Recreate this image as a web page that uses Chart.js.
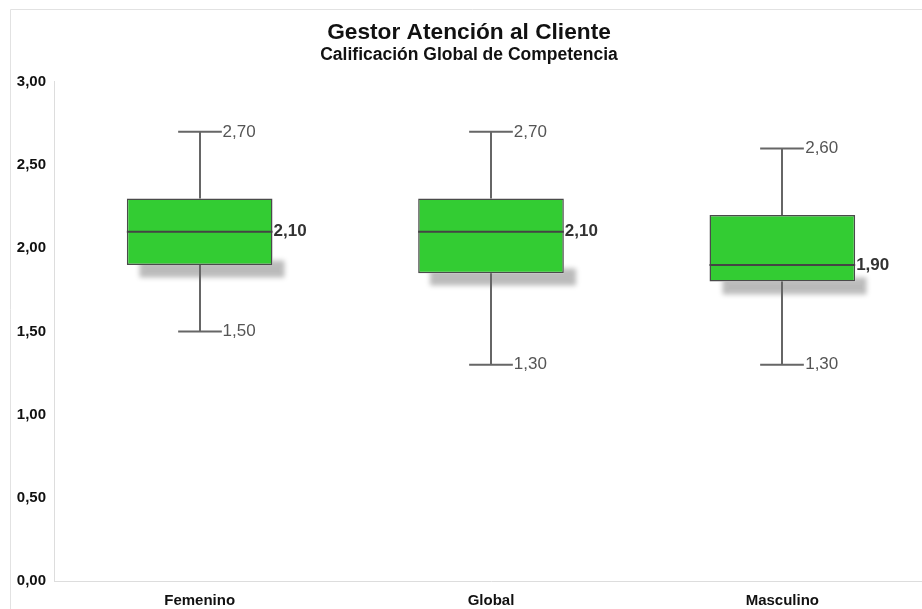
<!DOCTYPE html>
<html lang="es">
<head>
<meta charset="utf-8">
<title>Gestor Atención al Cliente</title>
<script src="https://cdn.jsdelivr.net/npm/chart.js@4"></script>
<style>
  html, body { margin: 0; padding: 0; background: #fff; overflow: hidden; }
  canvas { display: block; }
</style>
</head>
<body>
<canvas id="boxChart" width="935" height="609"></canvas>
<script>
// Categorías y estadísticos de cada caja (mín, Q1, mediana, Q3, máx)
const categories = ["Femenino", "Global", "Masculino"];
const minValues = [1.5, 1.3, 1.3];
const q1Values = [1.9, 1.85, 1.8];
const medianValues = [2.1, 2.1, 1.9];
const q3Values = [2.3, 2.3, 2.2];
const maxValues = [2.7, 2.7, 2.6];

const FONT = "'Liberation Sans', Arial, Helvetica, sans-serif";

function fmt(v) {
  return v.toFixed(2).replace(".", ",");
}

// Marco fino alrededor del gráfico
const framePlugin = {
  id: "frame",
  beforeDraw(chart) {
    const ctx = chart.ctx;
    ctx.save();
    ctx.strokeStyle = "#e2e2e2";
    ctx.lineWidth = 1;
    ctx.beginPath();
    ctx.moveTo(10.5, chart.height);
    ctx.lineTo(10.5, 9.5);
    ctx.lineTo(chart.width, 9.5);
    ctx.stroke();
    ctx.restore();
  },
};

// Sombra bajo las cajas, bigotes, mediana y etiquetas
const boxPlotPlugin = {
  id: "boxPlot",
  beforeDatasetsDraw(chart) {
    const ctx = chart.ctx;
    const y = chart.scales.y;
    const meta = chart.getDatasetMeta(0);
    ctx.save();
    // franja de sombra proyectada bajo el borde inferior de cada caja
    meta.data.forEach((bar) => {
      const left = bar.x - bar.width / 2;
      const bottom = Math.max(bar.y, bar.base);
      ctx.save();
      ctx.shadowColor = "rgba(0,0,0,0.27)";
      ctx.shadowBlur = 5;
      ctx.shadowOffsetX = 12;
      ctx.shadowOffsetY = 13;
      ctx.fillStyle = "#fff";
      ctx.fillRect(left, bottom - 18, bar.width, 18);
      ctx.restore();
    });
    // bigotes
    ctx.strokeStyle = "#666";
    ctx.lineWidth = 2;
    meta.data.forEach((bar, i) => {
      const x = Math.round(bar.x);
      const cap = bar.width * 0.15;
      const yMin = y.getPixelForValue(minValues[i]);
      const yMax = y.getPixelForValue(maxValues[i]);
      const yQ1 = y.getPixelForValue(q1Values[i]);
      const yQ3 = y.getPixelForValue(q3Values[i]);
      ctx.beginPath();
      ctx.moveTo(x, yMax);
      ctx.lineTo(x, yQ3);
      ctx.moveTo(x, yQ1);
      ctx.lineTo(x, yMin);
      ctx.moveTo(x - cap, yMax);
      ctx.lineTo(x + cap, yMax);
      ctx.moveTo(x - cap, yMin);
      ctx.lineTo(x + cap, yMin);
      ctx.stroke();
    });
    ctx.restore();
  },
  afterDatasetsDraw(chart) {
    const ctx = chart.ctx;
    const y = chart.scales.y;
    const meta = chart.getDatasetMeta(0);
    ctx.save();
    meta.data.forEach((bar, i) => {
      const left = bar.x - bar.width / 2;
      const right = bar.x + bar.width / 2;
      const cap = bar.width * 0.15;
      const yMed = y.getPixelForValue(medianValues[i]);
      ctx.strokeStyle = "#444";
      ctx.lineWidth = 2;
      ctx.beginPath();
      ctx.moveTo(left, yMed);
      ctx.lineTo(right, yMed);
      ctx.stroke();

      ctx.textBaseline = "middle";
      ctx.textAlign = "left";
      ctx.fillStyle = "#555";
      ctx.font = "17px " + FONT;
      ctx.fillText(fmt(maxValues[i]), bar.x + cap + 1, y.getPixelForValue(maxValues[i]));
      ctx.fillText(fmt(minValues[i]), bar.x + cap + 1, y.getPixelForValue(minValues[i]));

      ctx.fillStyle = "#333";
      ctx.font = "bold 17px " + FONT;
      ctx.fillText(fmt(medianValues[i]), right + 1, yMed);
    });
    ctx.restore();
  },
};

const ctx = document.getElementById("boxChart").getContext("2d");

new Chart(ctx, {
  type: "bar",
  data: {
    labels: categories,
    datasets: [
      {
        label: "Calificación",
        data: categories.map((c, i) => [q1Values[i], q3Values[i]]),
        backgroundColor: "#33cc33",
        borderColor: "#4a4a4a",
        borderWidth: 1.5,
        borderSkipped: false,
        barPercentage: 0.5,
        categoryPercentage: 1,
      },
    ],
  },
  options: {
    responsive: false,
    animation: false,
    layout: { padding: { left: 10, right: 7, top: 0, bottom: 0 } },
    scales: {
      x: {
        grid: { display: false, drawTicks: false },
        border: { display: true, color: "#dddddd" },
        ticks: {
          color: "#111",
          padding: 11,
          font: { family: FONT, size: 15, weight: "bold" },
        },
        afterFit(scale) {
          scale.height = 28;
        },
      },
      y: {
        min: 0,
        max: 3,
        grid: { display: false, drawTicks: false },
        border: { display: true, color: "#dddddd" },
        ticks: {
          stepSize: 0.5,
          color: "#111",
          padding: 8,
          font: { family: FONT, size: 15, weight: "bold" },
          callback: function (value) {
            return fmt(value);
          },
        },
        afterFit(scale) {
          scale.width = 44;
        },
      },
    },
    plugins: {
      legend: { display: false },
      tooltip: { enabled: false },
      title: {
        display: true,
        text: "Gestor Atención al Cliente",
        color: "#111",
        font: { family: FONT, size: 22.7, weight: "bold", lineHeight: 1.1 },
        padding: { top: 20, bottom: 0 },
      },
      subtitle: {
        display: true,
        text: "Calificación Global de Competencia",
        color: "#111",
        font: { family: FONT, size: 17.5, weight: "bold", lineHeight: 1.2 },
        padding: { top: 0, bottom: 16 },
      },
    },
  },
  plugins: [framePlugin, boxPlotPlugin],
});
</script>
</body>
</html>
